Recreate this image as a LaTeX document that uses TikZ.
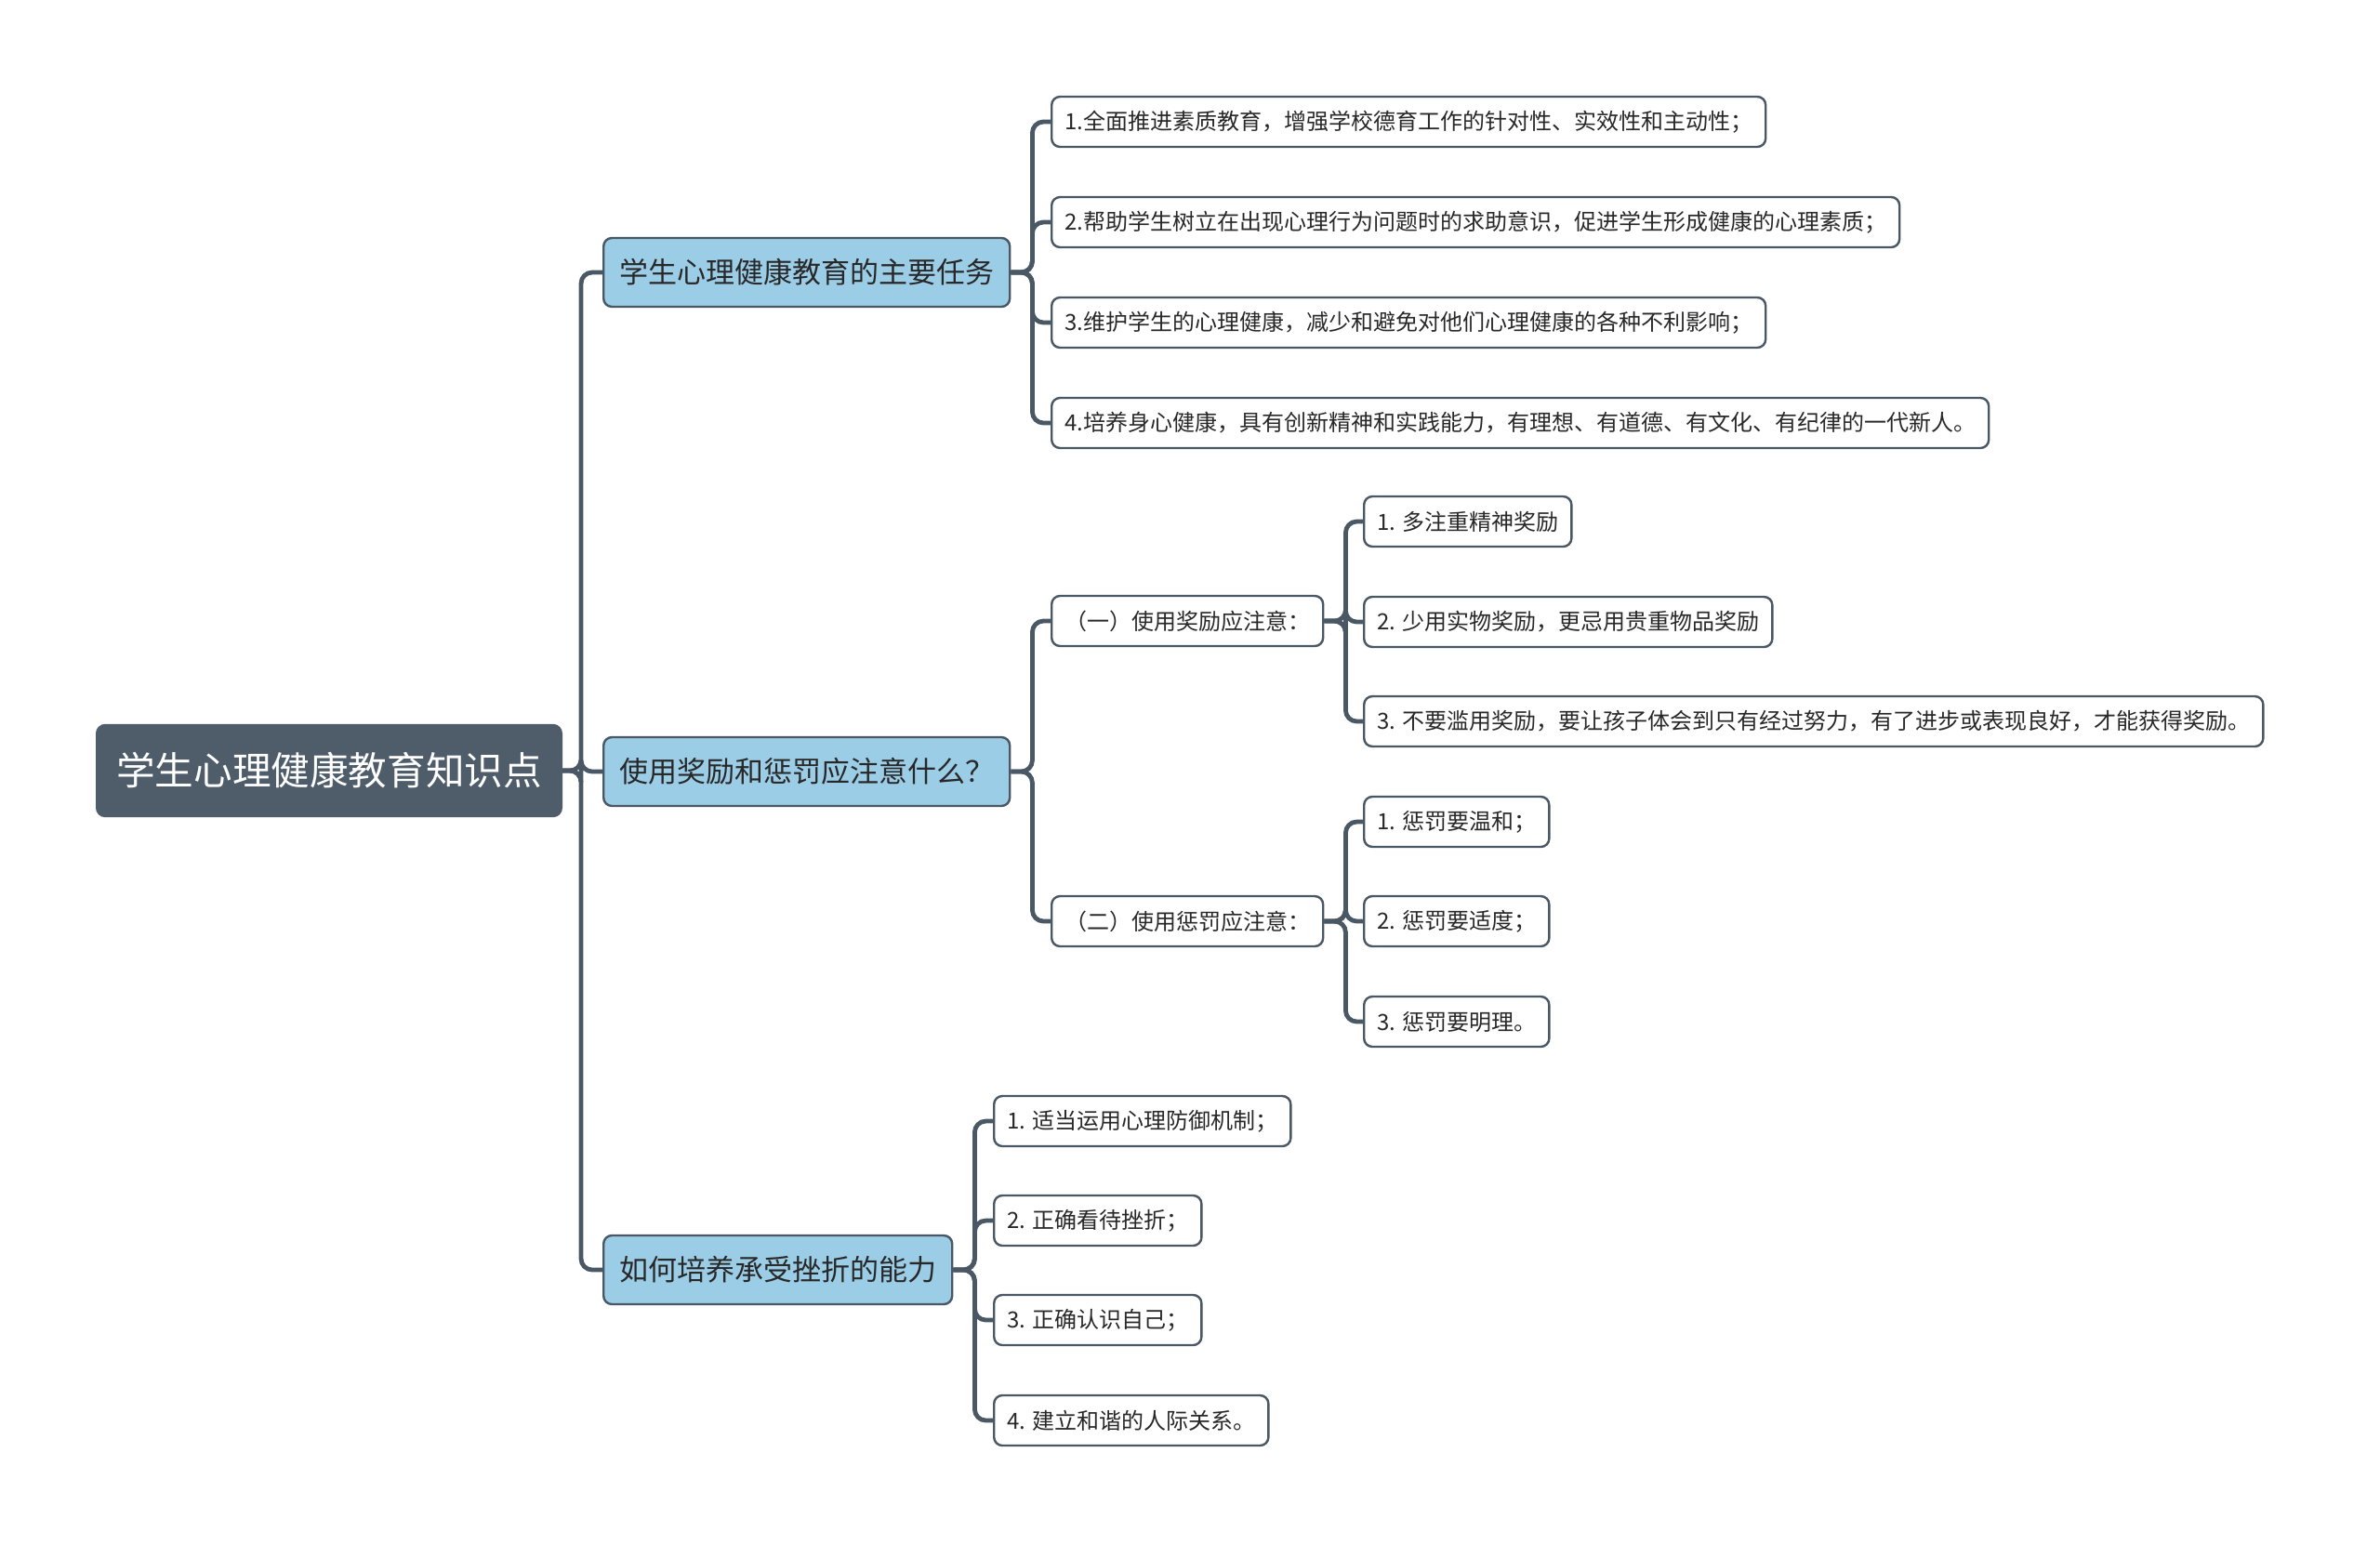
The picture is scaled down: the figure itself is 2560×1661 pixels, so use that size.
\documentclass[tikz,border=0pt]{standalone}
\usepackage{fontspec}
\usepackage{tikz}
\usetikzlibrary{backgrounds}
\newfontfamily\cjk{Noto Sans CJK SC}
\definecolor{slate}{RGB}{79, 93, 107}
\definecolor{edge}{RGB}{74, 87, 100}
\definecolor{sky}{RGB}{156, 205, 230}
\definecolor{ink}{RGB}{40, 40, 40}

\tikzset{
  base/.style={rounded corners=4.5pt, anchor=west, draw=edge, line width=1.2pt, font=\cjk},
  rootbox/.style={base, fill=slate, draw=slate, text=white, inner xsep=10.5pt, minimum height=49pt, font=\cjk\fontsize{20.8}{25}\selectfont},
  topic/.style={base, fill=sky, text=ink, inner xsep=8.5pt, minimum height=37pt, font=\cjk\fontsize{15.5}{19}\selectfont},
  leaf/.style={base, fill=white, text=ink, inner xsep=7pt, minimum height=27pt, font=\cjk\fontsize{12}{14}\selectfont},
  link/.style={draw=edge, line width=2.4pt, rounded corners=6pt}
}

\begin{document}
\begin{tikzpicture}[x=0.5pt, y=-0.5pt]

  \useasboundingbox (0, 0) rectangle (2560, 1661);

  % root and main topics
  \node[rootbox] (root) at (103, 829) {学生心理健康教育知识点};
  \node[topic] (task) at (648, 293) {学生心理健康教育的主要任务};
  \node[topic] (rule) at (648, 830) {使用奖励和惩罚应注意什么？};
  \node[topic] (bear) at (648, 1366) {如何培养承受挫折的能力};

  % tasks
  \node[leaf] (t1) at (1130, 131) {1.全面推进素质教育，增强学校德育工作的针对性、实效性和主动性；};
  \node[leaf] (t2) at (1130, 239) {2.帮助学生树立在出现心理行为问题时的求助意识，促进学生形成健康的心理素质；};
  \node[leaf] (t3) at (1130, 347) {3.维护学生的心理健康，减少和避免对他们心理健康的各种不利影响；};
  \node[leaf] (t4) at (1130, 455) {4.培养身心健康，具有创新精神和实践能力，有理想、有道德、有文化、有纪律的一代新人。};

  % reward and punishment
  \node[leaf] (reward) at (1130, 668) {（一）使用奖励应注意：};
  \node[leaf] (punish) at (1130, 991) {（二）使用惩罚应注意：};

  \node[leaf] (w1) at (1466, 561) {1. 多注重精神奖励};
  \node[leaf] (w2) at (1466, 669) {2. 少用实物奖励，更忌用贵重物品奖励};
  \node[leaf] (w3) at (1466, 776) {3. 不要滥用奖励，要让孩子体会到只有经过努力，有了进步或表现良好，才能获得奖励。};

  \node[leaf] (p1) at (1466, 884) {1. 惩罚要温和；};
  \node[leaf] (p2) at (1466, 991) {2. 惩罚要适度；};
  \node[leaf] (p3) at (1466, 1099) {3. 惩罚要明理。};

  % frustration
  \node[leaf] (b1) at (1068, 1206) {1. 适当运用心理防御机制；};
  \node[leaf] (b2) at (1068, 1313) {2. 正确看待挫折；};
  \node[leaf] (b3) at (1068, 1420) {3. 正确认识自己；};
  \node[leaf] (b4) at (1068, 1528) {4. 建立和谐的人际关系。};

  % connectors
  \begin{scope}[on background layer]
    \foreach \to in {task, rule, bear}
      \draw[link] (root.east) -- (625, 829) |- (\to.west);
    \foreach \to in {t1, t2, t3, t4}
      \draw[link] (task.east) -- ++(23, 0) |- (\to.west);
    \foreach \to in {reward, punish}
      \draw[link] (rule.east) -- ++(23, 0) |- (\to.west);
    \foreach \to in {w1, w2, w3}
      \draw[link] (reward.east) -- ++(23, 0) |- (\to.west);
    \foreach \to in {p1, p2, p3}
      \draw[link] (punish.east) -- ++(23, 0) |- (\to.west);
    \foreach \to in {b1, b2, b3, b4}
      \draw[link] (bear.east) -- ++(23, 0) |- (\to.west);
  \end{scope}

\end{tikzpicture}
\end{document}
